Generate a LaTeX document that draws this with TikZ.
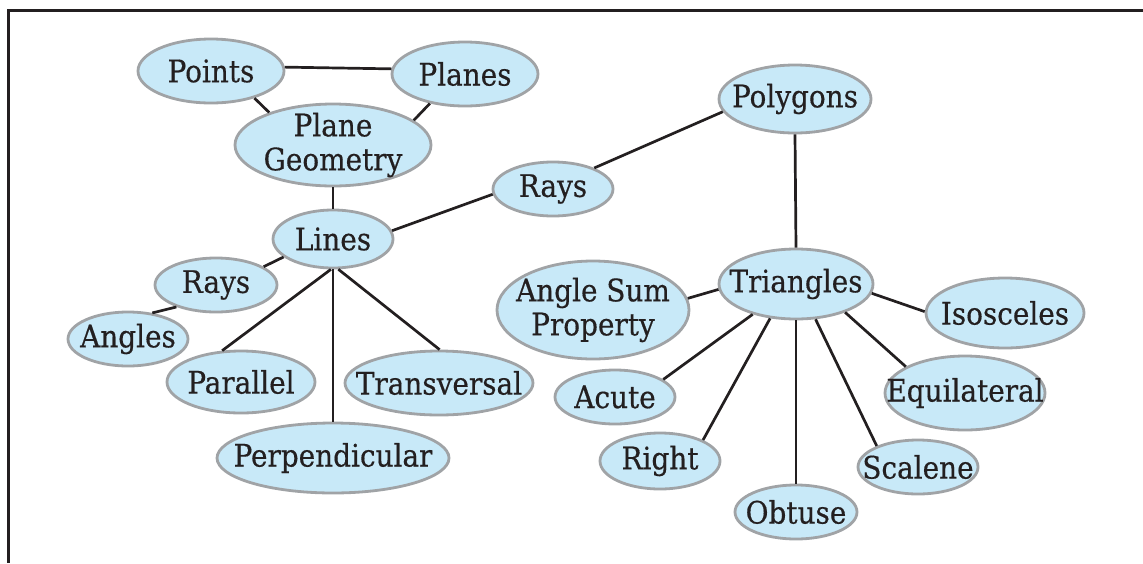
\documentclass[tikz,border=0pt]{standalone}
\usepackage{fontspec}
\setmainfont{DejaVu Serif Condensed}[FakeBold=0.4]
\usetikzlibrary{shapes.geometric}
\definecolor{bubble}{RGB}{200,233,248}
\definecolor{rim}{RGB}{160,163,166}
\definecolor{ink}{RGB}{35,31,32}
\tikzset{
  bub/.style={ellipse, draw=rim, line width=2.8pt, fill=bubble, inner sep=0pt},
  txt/.style={text=ink, font=\fontsize{31}{34}\selectfont, align=center, inner sep=0pt},
  link/.style={draw=ink, line width=2.7pt}
}
\begin{document}
\begin{tikzpicture}[x=1pt,y=-1pt]
\useasboundingbox (0,0) rectangle (1143,563);
\draw[draw=ink, line width=3pt] (1143,10.5) -- (8.5,10.5) -- (8.5,563);
% left cluster
\node[bub, minimum width=146, minimum height=64, label={[txt]center:Points}] (points) at (211,71) {};
\node[bub, minimum width=146, minimum height=64, label={[txt]center:Planes}] (planes) at (465,74) {};
\node[bub, minimum width=196, minimum height=82, label={[txt]center:Plane\\Geometry}] (pg) at (333,145) {};
\node[bub, minimum width=120, minimum height=58, label={[txt]center:Lines}] (lines) at (333,239) {};
\node[bub, minimum width=120, minimum height=54, label={[txt]center:Rays}] (raysm) at (553,189) {};
\node[bub, minimum width=152, minimum height=68, label={[txt]center:Polygons}] (poly) at (795,99) {};
\node[bub, minimum width=122, minimum height=54, label={[txt]center:Rays}] (raysl) at (216,285) {};
\node[bub, minimum width=120, minimum height=54, label={[txt]center:Angles}] (angles) at (128,339) {};
\node[bub, minimum width=148, minimum height=62, label={[txt]center:Parallel}] (parallel) at (241,382) {};
\node[bub, minimum width=188, minimum height=64, label={[txt]center:Transversal}] (trans) at (439,383) {};
\node[bub, minimum width=232, minimum height=70, label={[txt]center:Perpendicular}] (perp) at (333,458) {};
% right cluster
\node[bub, minimum width=154, minimum height=70, label={[txt]center:Triangles}] (tri) at (796,284) {};
\node[bub, minimum width=192, minimum height=98, label={[txt]center:Angle Sum\\Property}] (asp) at (593,310) {};
\node[bub, minimum width=158, minimum height=70, label={[txt]center:Isosceles}] (iso) at (1005,313) {};
\node[bub, minimum width=120, minimum height=54, label={[txt]center:Acute}] (acute) at (615,397) {};
\node[bub, minimum width=160, minimum height=74, label={[txt]center:Equilateral}] (equi) at (965,393) {};
\node[bub, minimum width=120, minimum height=56, label={[txt]center:Right}] (right) at (660,461) {};
\node[bub, minimum width=120, minimum height=54, label={[txt]center:Scalene}] (scal) at (918,467) {};
\node[bub, minimum width=122, minimum height=54, label={[txt]center:Obtuse}] (obt) at (796,512) {};
% connectors
\path[link] (points.3) -- (planes.176);
\path[link] (points.328) -- (pg.153);
\path[link] (planes.220) -- (pg.17);
\path[link] (pg.270) -- (lines.90);
\path[link] (lines.8) -- (raysm.185);
\path[link] (raysm.27) -- (poly.190);
\path[link] (lines.200) -- (raysl.21);
\path[link] (raysl.209) -- (angles.47);
\path[link] (lines.266) -- (parallel.121);
\path[link] (lines.270) -- (perp.90);
\path[link] (lines.280) -- (trans.89);
\path[link] (poly.270) -- (tri.90);
\path[link] (tri.184) -- (asp.7);
\path[link] (tri.353) -- (iso.179);
\path[link] (tri.215) -- (acute.20);
\path[link] (tri.233) -- (right.26);
\path[link] (tri.270) -- (obt.90);
\path[link] (tri.299) -- (scal.153);
\path[link] (tri.330) -- (equi.156);
\end{tikzpicture}
\end{document}
